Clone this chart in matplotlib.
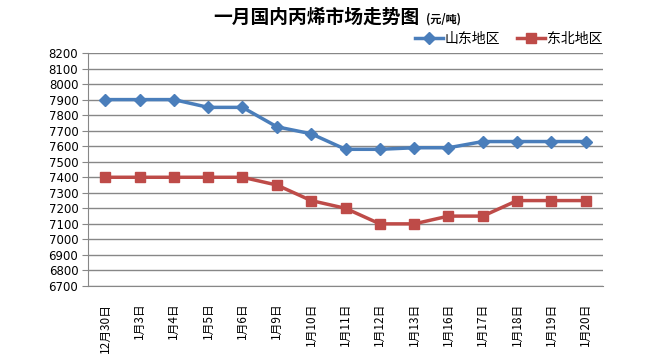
import matplotlib.pyplot as plt

plt.rcParams['font.family'] = ['Noto Sans CJK SC', 'DejaVu Sans']

# 数据
dates = ['12月30日', '1月3日', '1月4日', '1月5日', '1月6日', '1月9日', '1月10日', '1月11日',
         '1月12日', '1月13日', '1月16日', '1月17日', '1月18日', '1月19日', '1月20日']
shandong = [7900, 7900, 7900, 7850, 7850, 7725, 7680, 7580, 7580, 7590, 7590, 7630, 7630, 7630, 7630]
dongbei = [7400, 7400, 7400, 7400, 7400, 7350, 7250, 7200, 7100, 7100, 7150, 7150, 7250, 7250, 7250]
yticks = list(range(6700, 8201, 100))

fig = plt.figure(figsize=(6.5, 3.54), dpi=100)
ax = fig.add_axes([88 / 650, 1 - 286 / 354, 515 / 650, 233 / 354])

x = range(len(dates))
ax.plot(x, shandong, color='#4A7EBB', lw=2.5, marker='D', ms=6, label='山东地区')
ax.plot(x, dongbei, color='#BE4B48', lw=2.5, marker='s', ms=7.5, label='东北地区')

ax.set_xlim(-0.5, len(dates) - 0.5)
ax.set_ylim(6700, 8200)
ax.set_yticks(yticks)
ax.set_yticklabels([str(v) for v in yticks], fontsize=8.5, family='DejaVu Sans')
ax.set_xticks(list(x))
ax.set_xticklabels(dates, rotation=90, fontsize=8.5)
ax.tick_params(axis='x', length=0, pad=12)
ax.tick_params(axis='y', length=4, color='#878787', pad=3)
ax.yaxis.grid(True, color='#878787', lw=1)
ax.set_axisbelow(True)
for s in ['top', 'right']:
    ax.spines[s].set_visible(False)
for s in ['left', 'bottom']:
    ax.spines[s].set_color('#878787')

fig.text(213 / 650, 1 - 17 / 354, '一月国内丙烯市场走势图', fontsize=13.5, fontweight='bold',
         ha='left', va='center')
fig.text(426 / 650, 1 - 19 / 354, '(元/吨)', fontsize=8, fontweight='bold', ha='left', va='center')

ax.legend(loc='lower right', bbox_to_anchor=(1.012, 1.0), ncol=2, frameon=False,
          fontsize=10, handlelength=2.0, handletextpad=0.15, columnspacing=1.2,
          borderaxespad=0.1)

fig.savefig('out.png', dpi=100)
